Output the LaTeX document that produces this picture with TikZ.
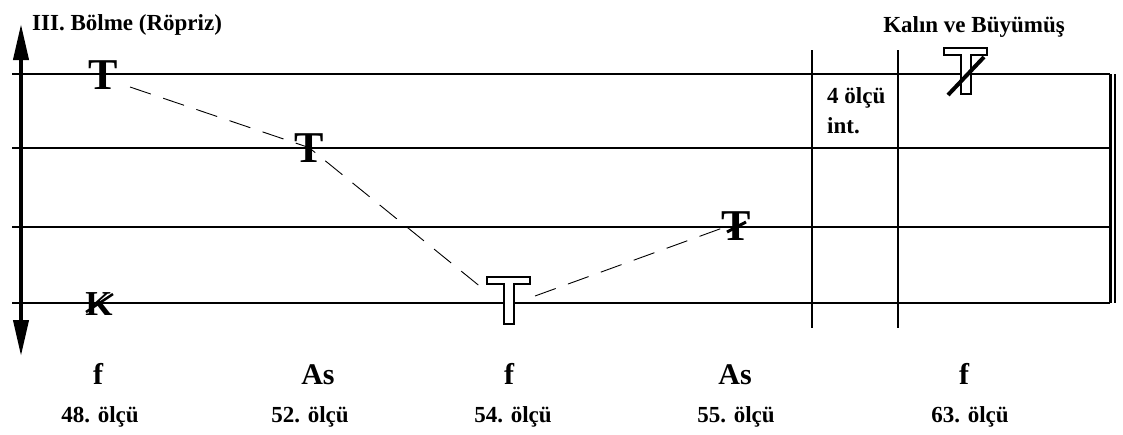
\documentclass[tikz,border=0pt]{standalone}
\usepackage{fontspec}
\setmainfont{Liberation Serif}
\usetikzlibrary{arrows.meta}
\begin{document}
\begin{tikzpicture}[x=1pt,y=-1pt,
  staff/.style={line width=1.4pt},
  barline/.style={line width=1.4pt},
  dashline/.style={line width=0.9pt, dash pattern=on 22pt off 13pt},
  tmark/.style={font=\fontsize{44}{44}\selectfont\bfseries, inner sep=0pt, anchor=base},
  kmark/.style={font=\fontsize{35}{35}\selectfont\bfseries, inner sep=0pt, anchor=base},
  lbl/.style={font=\fontsize{23}{28}\selectfont\bfseries, inner sep=0pt, anchor=base},
  dyn/.style={font=\fontsize{30}{30}\selectfont\bfseries, inner sep=0pt, anchor=base},
  outlineT/.style={line width=2pt, fill=white, line join=miter},
  slash/.style={line width=3pt},
]
\useasboundingbox (0,0) rectangle (1123,434);
% staff lines
\foreach \yy in {74,148,227,303} \draw[staff] (12,\yy) -- (1110,\yy);
% double bar
\draw[line width=2.6pt] (1110.5,74) -- (1110.5,303);
\draw[line width=2.4pt] (1115,74) -- (1115,303);
% measure bars
\draw[barline] (812,50) -- (812,328);
\draw[barline] (898,50) -- (898,328);
% vertical axis
\draw[line width=4pt, {Triangle[length=36pt,width=15pt]}-{Triangle[length=36pt,width=15pt]}] (21,24) -- (21,356);
% texts
\node[lbl, anchor=base west] (title) at (32,30) {III. Bölme (Röpriz)};
\node[lbl] (kalin) at (974,32) {Kalın ve Büyümüş};
\node[lbl, anchor=base west] (int1) at (827,103) {4 ölçü};
\node[lbl, anchor=base west] (int2) at (827,133) {int.};
% dynamics
\node[dyn] (f1) at (98,384) {f};
\node[dyn] (as1) at (318,384) {As};
\node[dyn] (f2) at (509,384) {f};
\node[dyn] (as2) at (735,384) {As};
\node[dyn] (f3) at (964,384) {f};
% measure labels
\node[lbl] (m48) at (100,422) {48. ölçü};
\node[lbl] (m52) at (310,422) {52. ölçü};
\node[lbl] (m54) at (513,422) {54. ölçü};
\node[lbl] (m55) at (736,422) {55. ölçü};
\node[lbl] (m63) at (970,422) {63. ölçü};
% marks
\node[tmark] (t1) at (103,89) {T};
\node[tmark] (t2) at (309,162) {T};
\node[tmark] (t4) at (736,240) {T};
\node[kmark] (k1) at (99,315) {K};
\draw[slash] (727,232) -- (746,222);
\draw[line width=2.5pt] (86,312) -- (113,294);
% outlined T (54)
\draw[outlineT] (487,277) -- (530,277) -- (530,284) -- (513.5,284) -- (513.5,324) -- (503.5,324) -- (503.5,284) -- (487,284) -- cycle;
% outlined T with slash (63)
\draw[outlineT] (944,48) -- (987,48) -- (987,55) -- (971,55) -- (971,94) -- (961,94) -- (961,55) -- (944,55) -- cycle;
\draw[line width=4pt] (948,95) -- (984,57);
% dashed contour
\coordinate (d1) at (130,87);
\coordinate (d3) at (482,288);
\coordinate (d4) at (535,296);
\coordinate (d5) at (728,226);
\draw[dashline] (d1) -- (t2.center) -- (d3);
\draw[dashline] (d4) -- (d5);
\end{tikzpicture}
\end{document}
